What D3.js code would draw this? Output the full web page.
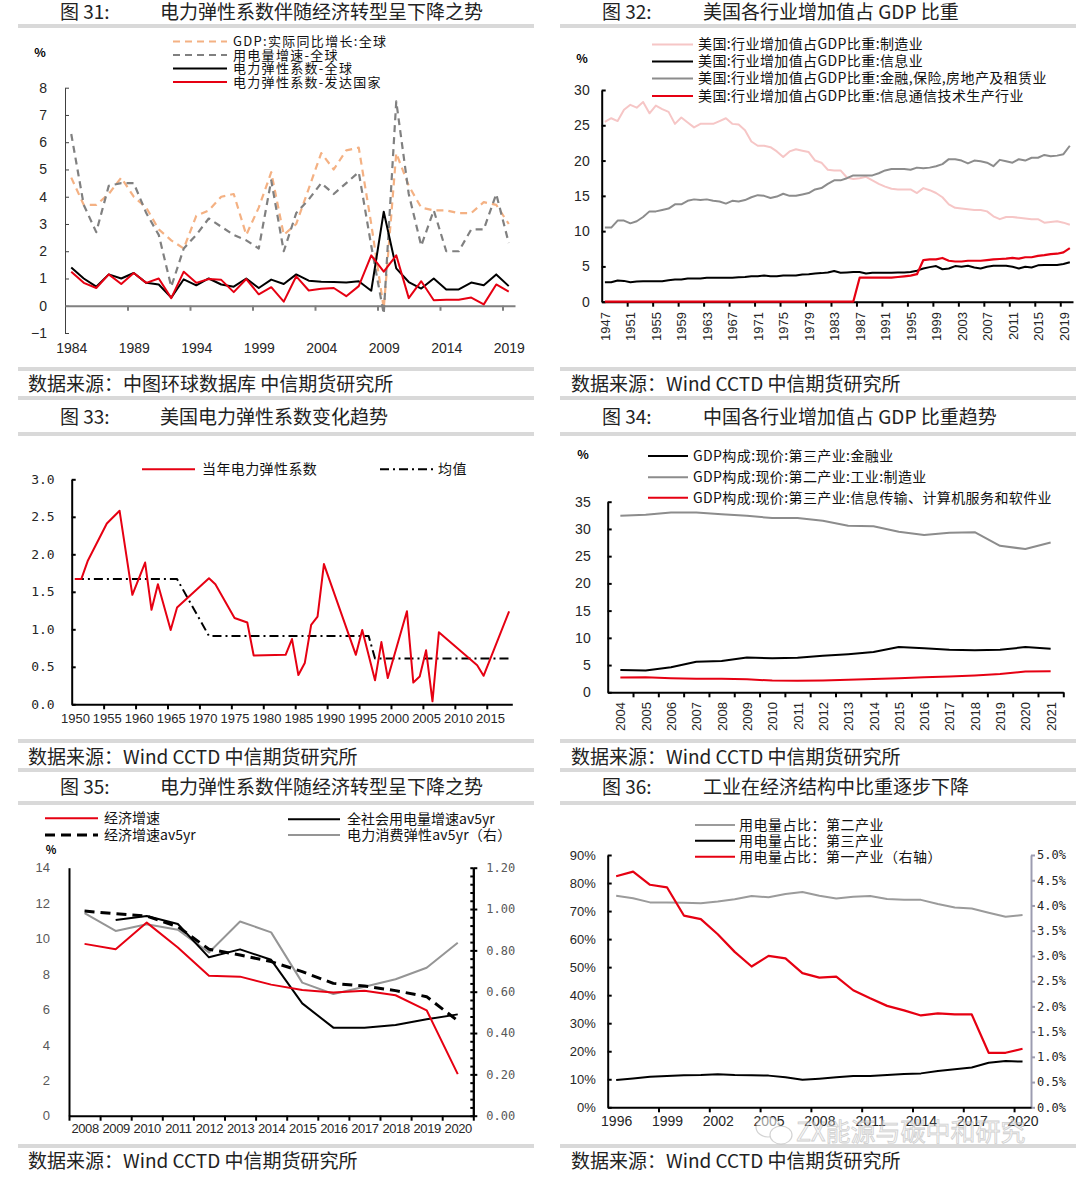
<!DOCTYPE html>
<html>
<head>
<meta charset="utf-8">
<script src="https://cdn.jsdelivr.net/npm/d3@7"></script>
<style>
  body { margin: 0; background: #fff; }
  svg text { font-family: "Noto Sans CJK SC", "Noto Sans", sans-serif; }
</style>
</head>
<body>
<div id="page"></div>
<script>
// ---------- data ----------
// Fig 31 (1984-2019)
const years31 = d3.range(1984, 2020);
const gdp31   = [4.7,3.7,3.7,4.1,4.7,4.0,3.6,2.8,2.4,2.1, 3.3,3.5,4.0,4.1,2.6,3.6,4.9,2.6,3.0,4.3, 5.6,5.0,5.7,5.8,3.0,-0.1,5.6,4.4,3.6,3.5, 3.5,3.4,3.4,3.8,3.7,3.0];
const elec31  = [6.3,3.7,2.7,4.4,4.5,4.5,3.4,2.6,0.7,2.1, 2.6,3.2,2.9,2.6,2.4,2.1,4.6,2.0,3.4,3.9, 4.5,4.1,4.5,4.9,2.2,-0.3,7.5,4.1,2.2,3.5, 2.0,2.0,2.8,2.8,4.1,2.3];
const elast31 = [1.4,1.0,0.7,1.15,1.0,1.2,0.84,0.78,0.3,0.97, 0.75,1.0,0.78,0.7,1.0,0.65,0.96,0.8,1.15,0.92, 0.88,0.87,0.85,0.9,0.55,3.45,1.37,0.87,0.63,1.0, 0.6,0.6,0.85,0.75,1.15,0.72];
const dev31   = [1.25,0.84,0.65,1.15,0.8,1.2,0.84,1.0,0.28,1.25, 0.84,0.98,0.95,0.5,0.98,0.42,0.68,0.15,1.08,0.56, 0.62,0.65,0.35,0.72,1.85,1.25,1.85,0.28,0.9,0.2, 0.22,0.22,0.3,0.05,0.78,0.52];
const labels31 = [1984,1989,1994,1999,2004,2009,2014,2019];

// Fig 32 (1947-2020)
const years32 = d3.range(1947, 2021);
const manu32 = [25.5,26.0,25.6,27.2,27.9,27.5,28.3,26.7,27.8,27.3, 26.9,25.2,26.1,25.4,24.7,25.2,25.2,25.2,25.6,26.0,
  25.2,25.1,24.3,22.7,22.1,22.1,21.9,21.3,20.5,21.3, 21.6,21.4,21.2,20.0,19.7,18.7,18.6,18.6,17.6,17.4,
  17.5,17.7,17.2,16.7,16.3,16.0,15.9,15.9,15.9,15.4, 16.1,15.8,15.4,14.8,13.8,13.3,13.2,13.1,13.0,13.0,
  12.8,12.1,11.7,12.0,12.0,11.9,11.8,11.7,11.7,11.2, 11.3,11.4,11.2,10.9];
const info32 = [2.75,2.75,3.0,2.95,2.75,2.85,2.9,2.9,2.9,2.9, 3.05,3.15,3.15,3.3,3.3,3.3,3.4,3.4,3.4,3.4,
  3.4,3.45,3.5,3.6,3.6,3.7,3.6,3.6,3.7,3.7, 3.7,3.85,3.9,4.0,4.05,4.15,4.35,4.1,4.15,4.2,
  4.2,4.0,4.1,4.1,4.1,4.1,4.15,4.15,4.2,4.4, 4.7,4.9,5.05,4.6,4.7,5.05,4.95,5.1,4.85,4.7,
  4.95,5.1,5.1,5.1,4.95,4.7,4.95,4.85,5.15,5.2, 5.2,5.2,5.35,5.6];
const fin32 = [10.5,10.5,11.5,11.5,11.1,11.4,12.0,12.8,12.8,13.0, 13.2,13.8,13.8,14.3,14.5,14.4,14.5,14.3,14.2,13.9,
  14.3,14.2,14.4,14.8,15.1,15.0,14.7,14.9,15.3,15.0, 15.0,15.2,15.4,15.9,16.1,16.7,17.2,17.2,17.5,17.9,
  17.9,17.9,17.9,18.2,18.6,18.8,18.8,18.8,18.7,19.0, 18.9,19.0,19.2,19.5,20.2,20.2,20.0,19.6,20.0,19.9,
  19.7,19.2,20.1,19.9,19.7,20.2,20.0,20.4,20.4,20.8, 20.6,20.7,20.9,22.1];
const ict32 = [0,0,0,0,0,0,0,0,0,0, 0,0,0,0,0,0,0,0,0,0,
  0,0,0,0,0,0,0,0,0,0, 0,0,0,0,0,0,0,0,0,0,
  3.4,3.4,3.4,3.4,3.4,3.4,3.5,3.6,3.7,3.9, 5.9,6.0,6.0,6.2,5.8,5.7,5.7,5.8,5.8,5.8,
  5.9,6.0,6.05,6.1,6.2,6.1,6.3,6.3,6.5,6.6, 6.75,6.8,7.0,7.6];
const labels32 = [1947,1951,1955,1959,1963,1967,1971,1975,1979,1983,1987,1991,1995,1999,2003,2007,2011,2015,2019];

// Fig 33 (only the years that carry a point)
const years33 = [1950,1951,1952,1955,1957,1959,1961,1962,1963,1965,1966,1971,1972,1975,1977,1978,1983,1984,1985,1986,
  1987,1988,1989,1994,1995,1997,1998,1999,2002,2003,2004,2005,2006,2007,2013,2014,2018];
const elast33 = [1.67,1.67,1.91,2.41,2.58,1.46,1.89,1.26,1.60,0.99,1.29,1.68,1.60,1.15,1.09,0.65,0.66,0.87,0.39,0.55,
  1.06,1.17,1.87,0.66,0.99,0.32,0.83,0.35,1.24,0.29,0.37,0.72,0.04,0.96,0.52,0.38,1.24];
const meanYears33 = [1950,1966,1971,1996,1997,2018];
const mean33 = [1.67,1.67,0.91,0.91,0.61,0.61];
const labels33 = [1950,1955,1960,1965,1970,1975,1980,1985,1990,1995,2000,2005,2010,2015];

// Fig 34 (2004-2021)
const years34 = d3.range(2004, 2022);
const manu34 = [32.4,32.6,33.0,33.0,32.7,32.4,32.0,32.0,31.5,30.6,30.5,29.5,28.9,29.3,29.4,26.9,26.3,27.5];
const fin34  = [4.1,4.0,4.6,5.6,5.75,6.4,6.25,6.35,6.7,7.0,7.4,8.3,8.1,7.8,7.7,7.8,8.3,8.0];
const it34   = [2.7,2.75,2.6,2.5,2.5,2.4,2.15,2.1,2.15,2.3,2.45,2.6,2.75,2.9,3.1,3.35,3.8,3.85];

// Fig 35 (2008-2020)
const years35 = d3.range(2008, 2021);
const gdp35    = [9.7,9.4,10.9,9.5,7.9,7.85,7.4,7.1,6.95,7.05,6.8,5.95,2.35];
const gdpAvg35 = [11.55,11.4,11.27,10.67,9.4,9.07,8.7,8.13,7.47,7.32,7.06,6.72,5.36];
const elecAvg35 = [null,11.05,11.27,10.82,8.94,9.39,8.8,6.34,4.97,4.97,5.12,5.44,5.72];
const elast35  = [0.98,0.894,0.926,0.90,0.79,0.94,0.887,0.644,0.589,0.624,0.66,0.716,0.837];

// Fig 36 (1996-2020)
const years36 = d3.range(1996, 2021);
const sec36 = [75.5,74.6,73.1,73.1,73.0,72.8,73.4,74.2,75.4,74.9,76.1,76.8,75.5,74.5,75.1,75.4,74.3,74.0,74.0,72.5,71.3,70.9,69.4,68.0,68.6];
const ter36 = [9.75,10.3,10.9,11.2,11.4,11.5,11.8,11.5,11.4,11.3,10.7,9.8,10.2,10.7,11.2,11.2,11.5,11.9,12.1,12.96,13.6,14.2,15.9,16.5,16.3];
const pri36 = [4.58,4.67,4.41,4.36,3.80,3.73,3.43,3.08,2.79,3.0,2.95,2.66,2.57,2.59,2.32,2.16,2.01,1.92,1.82,1.86,1.84,1.84,1.08,1.08,1.16];
const labels36 = [1996,1999,2002,2005,2008,2011,2014,2017,2020];

// ---------- page ----------
const svg = d3.select("#page").append("svg")
    .attr("width", 1080)
    .attr("height", 1179);

const RED = "#e60012", GRAY = "#8c8c8c";
const NUM = '"Liberation Sans", Arial, sans-serif';
const MONO = '"DejaVu Sans Mono", monospace';

function bar(x0, x1, y) {
  svg.append("rect").attr("x", x0).attr("y", y - 2).attr("width", x1 - x0).attr("height", 4).attr("fill", "#d9d9d9");
}

// title, separators and source line for one panel
const cols = [{x0: 18, x1: 534, fig: 60, title: 160, src: 28}, {x0: 560, x1: 1076, fig: 602, title: 703, src: 571}];
const rows = [{t: 12, line: 26, srcTop: 369, src: 384, srcBot: 398},
              {t: 417, line: 434, srcTop: 741, src: 757, srcBot: 770},
              {t: 787, line: 803, srcTop: 1146, src: 1161, srcBot: null}];

function frame(c, r, num, title, source) {
  const col = cols[c], row = rows[r];
  svg.append("text").attr("x", col.fig).attr("y", row.t).attr("dy", "0.35em")
      .style("font-size", "19px").style("fill", "#222").text("图 " + num + ":");
  svg.append("text").attr("x", col.title).attr("y", row.t).attr("dy", "0.35em")
      .style("font-size", "19px").style("fill", "#222").text(title);
  bar(col.x0, col.x1, row.line);
  bar(col.x0, col.x1, row.srcTop);
  if (row.srcBot) bar(col.x0, col.x1, row.srcBot);
  svg.append("text").attr("x", col.src).attr("y", row.src).attr("dy", "0.35em")
      .style("font-size", "19px").style("fill", "#222").text(source);
}

function styleAxis(sel, color, w, fs, font, fill) {
  sel.select(".domain").attr("stroke", color).attr("stroke-width", w);
  sel.selectAll(".tick line").attr("stroke", color).attr("stroke-width", w);
  sel.selectAll(".tick text").style("font-size", fs + "px").style("font-family", font).attr("fill", fill || "#262626");
}

function drawLine(xs, ys, xS, yS, color, w, dash) {
  const pts = xs.map((x, i) => [x, ys[i]]).filter(p => p[1] != null);
  svg.append("path").datum(pts)
      .attr("fill", "none")
      .attr("stroke", color)
      .attr("stroke-width", w)
      .attr("stroke-dasharray", dash || null)
      .attr("stroke-linejoin", "round")
      .attr("d", d3.line().x(p => xS(p[0])).y(p => yS(p[1])));
}

function legend(x1, x2, tx, y, color, w, dash, label, fs, ls) {
  svg.append("line").attr("x1", x1).attr("x2", x2).attr("y1", y).attr("y2", y)
      .attr("stroke", color).attr("stroke-width", w).attr("stroke-dasharray", dash || null);
  svg.append("text").attr("x", tx).attr("y", y).attr("dy", "0.35em")
      .style("font-size", (fs || 14) + "px").style("letter-spacing", (ls || 0) + "px")
      .style("fill", "#111").text(label);
}

// ---------- 图31 ----------
frame(0, 0, 31, "电力弹性系数伴随经济转型呈下降之势", "数据来源：中图环球数据库  中信期货研究所");
{
  const x = d3.scaleLinear().domain([1983.5, 2019.5]).range([65, 515]);
  const y = d3.scaleLinear().domain([-1, 8]).range([333, 87.7]);
  svg.append("g").attr("transform", "translate(65,0)")
      .call(d3.axisLeft(y).tickValues(d3.range(-1, 9)).tickSize(-4).tickSizeOuter(0).tickPadding(18)
        .tickFormat(d => d < 0 ? "−" + (-d) : d))
      .call(styleAxis, "#404040", 1, 14, NUM);
  svg.append("g").attr("transform", `translate(0,${y(0)})`)
      .call(d3.axisBottom(x).tickValues(labels31.slice(1).map(d => d - 0.5)).tickSize(5).tickSizeOuter(0).tickFormat(""))
      .call(styleAxis, "#808080", 2, 13, NUM);
  svg.append("g").attr("transform", "translate(0,343)")
      .call(d3.axisBottom(x).tickValues(labels31).tickSize(0).tickPadding(0).tickFormat(d3.format("d")))
      .call(g => g.select(".domain").remove())
      .call(styleAxis, "#000", 1, 14, NUM);
  svg.append("text").attr("x", 40).attr("y", 53).attr("dy", "0.35em").attr("text-anchor", "middle")
      .style("font-size", "12px").style("font-weight", "bold").text("%");

  drawLine(years31, gdp31, x, y, "#f4b183", 2.2, "7,5");
  drawLine(years31, elec31, x, y, "#808080", 2.2, "7,5");
  drawLine(years31, elast31, x, y, "#000", 2, null);
  drawLine(years31, dev31, x, y, RED, 2, null);

  legend(173, 227, 233, 41.5, "#f4b183", 2.2, "7,5", "GDP:实际同比增长:全球", 13, 1.3);
  legend(173, 227, 233, 55, "#808080", 2.2, "7,5", "用电量增速-全球", 13, 1.3);
  legend(173, 227, 233, 68.5, "#000", 2, null, "电力弹性系数-全球", 13, 1.3);
  legend(173, 227, 233, 82, RED, 2, null, "电力弹性系数-发达国家", 13, 1.3);
}

// ---------- 图32 ----------
frame(1, 0, 32, "美国各行业增加值占 GDP 比重", "数据来源：Wind CCTD 中信期货研究所");
{
  const x = d3.scaleLinear().domain([1946.5, 2020.5]).range([601.7, 1073]);
  const y = d3.scaleLinear().domain([0, 30]).range([301.7, 90]);
  svg.append("g").attr("transform", "translate(601.7,0)")
      .call(d3.axisLeft(y).tickValues(d3.range(0, 31, 5)).tickSize(-4).tickSizeOuter(0).tickPadding(12))
      .call(styleAxis, "#000", 2, 14, NUM);
  svg.append("g").attr("transform", `translate(0,${y(0)})`)
      .call(d3.axisBottom(x).tickValues(labels32.slice(1).map(d => d - 0.5)).tickSize(5).tickSizeOuter(0).tickFormat(""))
      .call(styleAxis, "#000", 2, 13, NUM);
  svg.append("g").attr("transform", "translate(0,312)")
      .call(d3.axisBottom(x).tickValues(labels32).tickSize(0).tickFormat(d3.format("d")))
      .call(g => g.select(".domain").remove())
      .call(styleAxis, "#000", 1, 13, NUM)
      .call(g => g.selectAll(".tick text").attr("transform", "rotate(-90)").attr("text-anchor", "end")
        .attr("x", 0).attr("y", 0).attr("dy", "0.35em"));
  svg.append("text").attr("x", 582).attr("y", 59).attr("dy", "0.35em").attr("text-anchor", "middle")
      .style("font-size", "12px").style("font-weight", "bold").text("%");

  drawLine(years32, manu32, x, y, "#f6c6c6", 2, null);
  drawLine(years32, fin32, x, y, GRAY, 2, null);
  drawLine(years32, info32, x, y, "#000", 2, null);
  drawLine(years32, ict32, x, y, RED, 2.2, null);

  legend(652, 693, 698, 44.5, "#f6c6c6", 2, null, "美国:行业增加值占GDP比重:制造业", 14, 0.4);
  legend(652, 693, 698, 61.5, "#000", 2, null, "美国:行业增加值占GDP比重:信息业", 14, 0.4);
  legend(652, 693, 698, 78.5, GRAY, 2, null, "美国:行业增加值占GDP比重:金融,保险,房地产及租赁业", 14, 0.4);
  legend(652, 693, 698, 96, RED, 2, null, "美国:行业增加值占GDP比重:信息通信技术生产行业", 14, 0.4);
}

// ---------- 图33 ----------
frame(0, 1, 33, "美国电力弹性系数变化趋势", "数据来源：Wind CCTD  中信期货研究所");
{
  const x = d3.scaleLinear().domain([1949.5, 2018.5]).range([71.7, 512.3]);
  const y = d3.scaleLinear().domain([0, 3]).range([704.3, 479.3]);
  svg.append("g").attr("transform", "translate(71.7,0)")
      .call(d3.axisLeft(y).tickValues(d3.range(0, 3.01, 0.5)).tickSize(-4).tickSizeOuter(0).tickPadding(17)
        .tickFormat(d3.format(".1f")))
      .call(styleAxis, "#000", 2, 13, MONO);
  svg.append("g").attr("transform", `translate(0,${y(0)})`)
      .call(d3.axisBottom(x).tickValues(labels33.slice(1).map(d => d - 0.5)).tickSize(5).tickSizeOuter(0).tickFormat(""))
      .call(styleAxis, "#000", 2, 13, NUM);
  svg.append("g").attr("transform", "translate(0,714)")
      .call(d3.axisBottom(x).tickValues(labels33).tickSize(0).tickPadding(0).tickFormat(d3.format("d")))
      .call(g => g.select(".domain").remove())
      .call(styleAxis, "#000", 1, 13, NUM);

  drawLine(meanYears33, mean33, x, y, "#000", 2, "9,4,2,4");
  drawLine(years33, elast33, x, y, RED, 2, null);

  legend(142, 195, 202, 469.3, RED, 2, null, "当年电力弹性系数", 14, 0.4);
  legend(380, 433, 438, 469.3, "#000", 2, "9,4,2,4", "均值", 14, 0.4);
}

// ---------- 图34 ----------
frame(1, 1, 34, "中国各行业增加值占 GDP 比重趋势", "数据来源：Wind CCTD 中信期货研究所");
{
  const x = d3.scaleLinear().domain([2003.5, 2021.5]).range([607.7, 1063.3]);
  const y = d3.scaleLinear().domain([0, 35]).range([692.3, 501.7]);
  svg.append("g").attr("transform", "translate(607.7,0)")
      .call(d3.axisLeft(y).tickValues(d3.range(0, 36, 5)).tickSize(-4).tickSizeOuter(0).tickPadding(17))
      .call(styleAxis, "#000", 2, 14, NUM);
  svg.append("g").attr("transform", `translate(0,${y(0)})`)
      .call(d3.axisBottom(x).tickValues(years34.map(d => d + 0.5)).tickSize(5).tickSizeOuter(0).tickFormat(""))
      .call(styleAxis, "#000", 2, 13, NUM);
  svg.append("g").attr("transform", "translate(0,702)")
      .call(d3.axisBottom(x).tickValues(years34).tickSize(0).tickFormat(d3.format("d")))
      .call(g => g.select(".domain").remove())
      .call(styleAxis, "#000", 1, 13, NUM)
      .call(g => g.selectAll(".tick text").attr("transform", "rotate(-90)").attr("text-anchor", "end")
        .attr("x", 0).attr("y", 0).attr("dy", "0.35em"));
  svg.append("text").attr("x", 583).attr("y", 455).attr("dy", "0.35em").attr("text-anchor", "middle")
      .style("font-size", "12px").style("font-weight", "bold").text("%");

  drawLine(years34, manu34, x, y, GRAY, 2, null);
  drawLine(years34, fin34, x, y, "#000", 2, null);
  drawLine(years34, it34, x, y, RED, 2, null);

  legend(648, 688, 693, 456, "#000", 2, null, "GDP构成:现价:第三产业:金融业", 14, 0.4);
  legend(648, 688, 693, 477.3, GRAY, 2, null, "GDP构成:现价:第二产业:工业:制造业", 14, 0.4);
  legend(648, 688, 693, 497.7, RED, 2, null, "GDP构成:现价:第三产业:信息传输、计算机服务和软件业", 14, 0.4);
}

// ---------- 图35 ----------
frame(0, 2, 35, "电力弹性系数伴随经济转型呈下降之势", "数据来源：Wind CCTD  中信期货研究所");
{
  const x = d3.scaleLinear().domain([2007.5, 2020.5]).range([69, 473.3]);
  const yL = d3.scaleLinear().domain([0, 14]).range([1115.7, 867.7]);
  const yR = d3.scaleLinear().domain([0, 1.2]).range([1115.7, 867.7]);
  svg.append("g").attr("transform", "translate(69,0)")
      .call(d3.axisLeft(yL).tickValues(d3.range(0, 15, 2)).tickSize(0).tickPadding(19))
      .call(styleAxis, "#000", 2, 13, NUM, "#595959");
  svg.append("g").attr("transform", "translate(473.3,0)")
      .call(d3.axisLeft(yR).tickValues(d3.range(0, 1.201, 0.04)).tickSize(3).tickSizeOuter(0).tickFormat(""))
      .call(styleAxis, "#000", 2, 12, MONO);
  svg.append("g").attr("transform", "translate(473.3,0)")
      .call(d3.axisRight(yR).tickValues(d3.range(0, 1.201, 0.2)).tickSize(4).tickSizeOuter(0).tickPadding(9)
        .tickFormat(d3.format(".2f")))
      .call(styleAxis, "#000", 2, 12, MONO, "#595959");
  svg.append("g").attr("transform", `translate(0,${yL(0)})`)
      .call(d3.axisBottom(x).tickValues([2007.5].concat(years35.map(d => d + 0.5))).tickSize(5).tickSizeOuter(0).tickFormat(""))
      .call(styleAxis, "#000", 2, 13, NUM);
  svg.append("g").attr("transform", "translate(0,1124)")
      .call(d3.axisBottom(x).tickValues(years35).tickSize(0).tickPadding(0).tickFormat(d3.format("d")))
      .call(g => g.select(".domain").remove())
      .call(styleAxis, "#000", 1, 13, NUM)
      .call(g => g.selectAll(".tick text").style("letter-spacing", "-0.4px"));
  svg.append("text").attr("x", 51).attr("y", 850).attr("dy", "0.35em").attr("text-anchor", "middle")
      .style("font-size", "11px").style("font-weight", "bold").text("%");

  drawLine(years35, elast35, x, yR, "#959595", 2, null);
  drawLine(years35, elecAvg35, x, yL, "#000", 2, null);
  drawLine(years35, gdpAvg35, x, yL, "#000", 3, "10,6");
  drawLine(years35, gdp35, x, yL, RED, 2, null);

  legend(45, 98, 104, 818.3, RED, 2, null, "经济增速", 14);
  legend(45, 98, 104, 835, "#000", 3, "10,6", "经济增速av5yr", 14);
  legend(288, 340, 347, 819.3, "#000", 2, null, "全社会用电量增速av5yr", 14);
  legend(288, 340, 347, 835, "#959595", 2, null, "电力消费弹性av5yr（右）", 14, 0.2);
}

// ---------- 图36 ----------
frame(1, 2, 36, "工业在经济结构中比重逐步下降", "数据来源：Wind CCTD 中信期货研究所");
{
  const x = d3.scaleLinear().domain([1995.5, 2020.5]).range([607.7, 1031]);
  const yL = d3.scaleLinear().domain([0, 90]).range([1107.3, 855]);
  const yR = d3.scaleLinear().domain([0, 5]).range([1107.3, 855]);
  svg.append("g").attr("transform", "translate(607.7,0)")
      .call(d3.axisLeft(yL).tickValues(d3.range(0, 91, 10)).tickSize(-4).tickSizeOuter(0).tickPadding(12)
        .tickFormat(d => d + "%"))
      .call(styleAxis, "#000", 2, 13, NUM);
  svg.append("g").attr("transform", "translate(1031,0)")
      .call(d3.axisRight(yR).tickValues(d3.range(0, 5.01, 0.5)).tickSize(4).tickSizeOuter(0).tickPadding(2)
        .tickFormat(d => d3.format(".1f")(d) + "%"))
      .call(styleAxis, "#9c9cb0", 2, 12, MONO);
  svg.append("g").attr("transform", `translate(0,${yL(0)})`)
      .call(d3.axisBottom(x).tickValues(labels36.slice(1).map(d => d - 0.5)).tickSize(5).tickSizeOuter(0).tickFormat(""))
      .call(styleAxis, "#000", 2, 13, NUM);
  svg.append("g").attr("transform", "translate(0,1116)")
      .call(d3.axisBottom(x).tickValues(labels36).tickSize(0).tickPadding(0).tickFormat(d3.format("d")))
      .call(g => g.select(".domain").remove())
      .call(styleAxis, "#000", 1, 14, NUM);

  drawLine(years36, sec36, x, yL, "#9b9b9b", 2, null);
  drawLine(years36, ter36, x, yL, "#000", 2, null);
  drawLine(years36, pri36, x, yR, RED, 2.2, null);

  legend(695, 735, 739, 825, "#9b9b9b", 2, null, "用电量占比：第二产业", 14, 0.5);
  legend(695, 735, 739, 840.7, "#000", 2, null, "用电量占比：第三产业", 14, 0.5);
  legend(695, 735, 739, 856.7, RED, 2, null, "用电量占比：第一产业（右轴）", 14, 0.5);

  // watermark laid over the lower right corner, as in the source image
  const wm = svg.append("g").attr("opacity", 0.55);
  wm.append("ellipse").attr("cx", 768).attr("cy", 1127).attr("rx", 12).attr("ry", 10)
      .attr("fill", "#fff").attr("stroke", "#b0b0b0").attr("stroke-width", 1.2);
  wm.append("ellipse").attr("cx", 781).attr("cy", 1135).attr("rx", 11).attr("ry", 9)
      .attr("fill", "#fff").attr("stroke", "#b0b0b0").attr("stroke-width", 1.2);
  wm.append("text").attr("x", 796).attr("y", 1132).attr("dy", "0.35em")
      .style("font-size", "25px").style("fill", "#f2f2f2").style("stroke", "#a8a8a8").style("stroke-width", 0.8)
      .text("ZX能源与碳中和研究");
}
</script>
</body>
</html>
